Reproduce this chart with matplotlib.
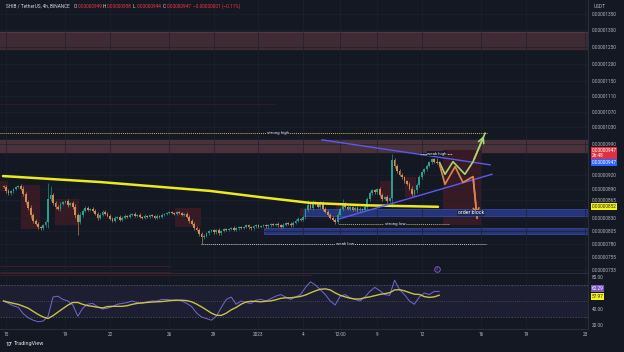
import numpy as np
import pandas as pd
import matplotlib
matplotlib.use('Agg')
import matplotlib.pyplot as plt
from matplotlib.patches import Rectangle
from matplotlib.ticker import FixedLocator, FuncFormatter, NullLocator
from matplotlib.transforms import blended_transform_factory

# цены в единицах 1e-8 USDT, свечи 4h начиная с 14 дек 20:00
closes = [893,
          885, 880, 884, 889, 893, 896,   # 15 дек
          890, 878, 862, 850, 835, 824,   # 16
          818, 812, 809, 815, 822, 868,   # 17
          876, 860, 852, 848, 858, 862,   # 18
          864, 856, 860, 852, 835, 822,   # 19
          836, 844, 850, 846, 848, 844,   # 20
          838, 830, 836, 842, 838, 834,   # 21
          828, 824, 830, 832, 826, 830,   # 22
          834, 832, 836, 838, 834, 836,   # 23
          832, 830, 834, 832, 835, 833,   # 24
          830, 834, 832, 836, 838, 840,   # 25
          842, 840, 838, 841, 839, 836,   # 26
          838, 832, 824, 818, 810, 806,   # 27
          798, 792, 795, 800, 804, 806,   # 28
          802, 806, 800, 804, 808, 806,   # 29
          808, 810, 806, 809, 812, 810,   # 30
          812, 815, 811, 809, 813, 815,   # 31
          812, 814, 816, 813, 815, 817,   # 1 янв
          816, 818, 815, 812, 816, 819,   # 2
          818, 815, 820, 824, 828, 826,   # 3
          832, 845, 856, 850, 862, 858,   # 4
          852, 860, 848, 842, 836, 830,   # 5
          826, 822, 836, 848, 858, 852,   # 6
          848, 852, 846, 850, 845, 848,   # 7
          846, 852, 868, 880, 886, 882,   # 8
          888, 876, 868, 872, 864, 870,   # 9
          952, 940, 928, 920, 914, 906,   # 10
          900, 890, 878, 886, 898, 915,   # 11
          925, 932, 940, 948, 955, 949,   # 12
          947]
first_open = 895
# заметные тени (индекс свечи -> значение)
spike_high = {18: 902, 19: 895, 123: 866, 137: 868, 157: 966, 175: 958}
spike_low = {30: 796, 80: 780, 134: 818, 175: 944}

# RSI каждые 8 часов
rsi = [50, 47, 44, 42, 34, 29, 26, 24, 25, 31, 55, 56, 52, 50, 45, 31, 41, 46,
       47, 43, 40, 41, 43, 46, 47, 48, 50, 48, 47, 49, 50, 50, 52, 52, 51, 51,
       50, 47, 43, 35, 30, 28, 26, 31, 42, 52, 55, 46, 50, 48, 47, 51, 52, 50,
       53, 56, 58, 55, 52, 55, 58, 67, 74, 70, 64, 58, 50, 45, 56, 58, 54, 52,
       50, 55, 62, 67, 63, 58, 57, 76, 64, 58, 50, 46, 55, 60, 58, 62, 62]

# желтая линия (день, цена)
ma_days = [-0.2, 6.33, 13.74, 17.1, 20.47, 24.31, 29.09]
ma_vals = [917, 904, 885, 872, 860, 855, 852]

# прогнозные пути (день, цена)
green_days = [29.2, 29.56, 30.1, 30.9, 31.45, 32.26]
green_vals = [947, 921, 949, 921, 949, 1016]
orange_days = [29.2, 29.56, 30.24, 30.77, 31.45, 31.72]
orange_vals = [942, 899, 938, 903, 916, 829]

# трендовые линии треугольника
upper_tl = ([21.28, 32.6], [1000, 942])
lower_tl = ([22.36, 32.73], [827, 921])

# зоны
zone_top = (1242, 1294)
zone_mid = (971, 1000)
order_block = (20.0, 833, 848)
demand_zone = (17.4, 798, 810)
red_boxes = [(-0.4, 0.15, 884, 906), (1.0, 2.3, 808, 897), (3.3, 4.9, 815, 867),
             (11.4, 13.1, 812, 850), (19.8, 20.6, 833, 850), (22.2, 22.9, 835, 860),
             (25.2, 26.0, 865, 906), (26.9, 27.6, 872, 915), (29.45, 32.0, 815, 975)]

tick_days = [0, 4, 7, 11, 14, 17, 20, 22.5, 25, 28, 32, 35, 39]
tick_labels = ['15', '19', '22', '26', '29', '2023', '4', '12:00', '9', '12', '16', '19', '23']
price_ticks = [1350, 1300, 1250, 1200, 1150, 1110, 1070, 1030, 990, 920, 890, 865,
               830, 805, 780, 755, 733]

BG = '#141823'
GRID = '#1e2230'
TXT = '#b2b5be'
FS = 3.4


def price_fmt(v, pos=None):
    return '0.%08d' % int(round(v))


def main():
    plt.rcParams['font.family'] = ['Roboto', 'DejaVu Sans']

    fig = plt.figure(figsize=(6.24, 3.52), dpi=100, facecolor=BG)
    ax = fig.add_axes([0, 1 - 273 / 352, 588 / 624, 273 / 352], facecolor=BG)
    ax2 = fig.add_axes([0, 1 - 329 / 352, 588 / 624, 55 / 352], facecolor=BG, sharex=ax)

    # свечи
    c = np.array(closes, dtype=float)
    o = np.concatenate([[first_open], c[:-1]])
    t = -1 / 6 + np.arange(len(c)) / 6
    body_hi = np.maximum(o, c)
    body_lo = np.minimum(o, c)
    hi = body_hi + 2 + 0.2 * (body_hi - body_lo)
    lo = body_lo - 2 - 0.2 * (body_hi - body_lo)
    for i, v in spike_high.items():
        hi[i] = v
    for i, v in spike_low.items():
        lo[i] = v
    up = c >= o
    colors = np.where(up, '#2c9c8d', '#d18c56')

    # фоновые зоны
    ax.axhspan(*zone_top, color='#3e2b33', zorder=0.5)
    ax.axhline(zone_top[1], color='#5a3744', lw=0.8, zorder=0.6)
    ax.axhspan(*zone_mid, color='#4a323a', zorder=0.5)
    ax.add_patch(Rectangle((order_block[0], order_block[1]), 40, order_block[2] - order_block[1],
                           fc='#26357a', ec='#3a4fb0', lw=0.5, zorder=0.7))
    ax.add_patch(Rectangle((demand_zone[0], demand_zone[1]), 40, demand_zone[2] - demand_zone[1],
                           fc='#26357a', ec='#3a4fb0', lw=0.5, zorder=0.7))
    for x0, x1, p0, p1 in red_boxes:
        ax.add_patch(Rectangle((x0, p0), x1 - x0, p1 - p0, fc='#381a25', ec='none', zorder=0.6))

    ax.vlines(t, lo, hi, colors=colors, lw=0.45, zorder=2)
    ax.bar(t, np.maximum(body_hi - body_lo, 0.8), bottom=body_lo, width=0.12,
           color=colors, lw=0, zorder=2.1)

    # желтая линия
    ax.plot(ma_days, ma_vals, color='#eaea1e', lw=1.8, zorder=3, solid_capstyle='round')

    # треугольник
    ax.plot(*upper_tl, color='#5a5af0', lw=1.0, zorder=3)
    ax.plot(*lower_tl, color='#5a5af0', lw=1.0, zorder=3)

    # прогнозы
    ax.plot(green_days, green_vals, color='#a9d46e', lw=1.2, zorder=4)
    ax.annotate('', xy=(green_days[-1], green_vals[-1]), xytext=(green_days[-2], green_vals[-2]),
                arrowprops=dict(arrowstyle='->', color='#a9d46e', lw=1.2), zorder=4)
    ax.plot(orange_days, orange_vals, color='#d8894a', lw=1.2, zorder=4)
    ax.annotate('', xy=(orange_days[-1], orange_vals[-1]), xytext=(orange_days[-2], orange_vals[-2]),
                arrowprops=dict(arrowstyle='->', color='#d8894a', lw=1.2), zorder=4)

    # уровни
    ax.hlines(1016, -0.4, 32.4, colors='#c9b45a', lw=0.7, linestyles=(0, (1, 1)), zorder=3)
    ax.hlines(818, 22.4, 29.8, colors='#c9b45a', lw=0.7, linestyles=(0, (1, 1)), zorder=3)
    ax.hlines(779, 13.1, 32.4, colors='#c8c8c8', lw=0.7, linestyles=(0, (1, 1)), zorder=3)
    ax.hlines(966, 27.9, 30.0, colors='#c8c8c8', lw=0.6, linestyles=(0, (2, 1)), zorder=3)
    ax.hlines(1090, -0.4, 18.1, colors='#3a1a24', lw=0.6, zorder=1)
    for lvl in (740, 729):
        ax.hlines(lvl, -0.4, 11.1, colors='#4a1a28', lw=0.6, zorder=1)

    lbl = dict(color='#e6e6e6', fontsize=3.2, ha='center', va='center', zorder=6)
    ax.text(18.3, 1016, 'strong high', bbox=dict(fc=BG, ec='none', pad=0.3), **lbl)
    ax.text(26.2, 818, 'strong low', bbox=dict(fc=BG, ec='none', pad=0.3), **lbl)
    ax.text(22.8, 779, 'weak low', bbox=dict(fc=BG, ec='none', pad=0.3), **lbl)
    ax.text(29.0, 967, 'weak high', bbox=dict(fc=BG, ec='none', pad=0.3), **lbl)
    ax.text(31.3, 840, 'order block', color='#ffffff', fontsize=3.8, ha='center', va='center',
            zorder=6, bbox=dict(fc='#1c2a5a', ec='none', pad=0.5))
    ax.plot([29.0], [735], 'o', ms=4, mfc='none', mec='#7e57c2', mew=0.7, zorder=6)
    ax.text(29.0, 735, '4', color='#7e57c2', fontsize=2.6, ha='center', va='center', zorder=6)

    # ось цен
    ax.set_yscale('log')
    ax.set_ylim(727.2, 1397.3)
    ax.set_xlim(-0.404, 39.19)
    ax.yaxis.set_major_locator(FixedLocator(price_ticks))
    ax.yaxis.set_minor_locator(NullLocator())
    ax.yaxis.set_major_formatter(FuncFormatter(price_fmt))
    ax.yaxis.tick_right()
    ax.tick_params(axis='y', length=0, pad=3, labelsize=FS, colors=TXT)
    ax.tick_params(axis='x', length=0, labelbottom=False)
    ax.set_xticks(tick_days)
    ax.grid(True, color=GRID, lw=0.5, zorder=0)
    for s in ax.spines.values():
        s.set_visible(False)
    ax.spines['bottom'].set_visible(True)
    ax.spines['bottom'].set_color('#2a2e39')
    ax.spines['right'].set_visible(True)
    ax.spines['right'].set_color('#2a2e39')

    # подписи на шкале
    tr = blended_transform_factory(fig.transFigure, ax.transData)
    x_lab = 591.5 / 624
    ax.text(x_lab, 970, '0.00000947\n2h:48', transform=tr, fontsize=FS, color='white',
            va='center', ha='left', linespacing=1.0, zorder=7, clip_on=False,
            bbox=dict(boxstyle='square,pad=0.2', fc='#e0303f', ec='none'))
    ax.text(x_lab, 947, '0.00000947', transform=tr, fontsize=FS, color='white',
            va='center', ha='left', zorder=7, clip_on=False,
            bbox=dict(boxstyle='square,pad=0.2', fc='#2962ff', ec='none'))
    ax.text(x_lab, 852, '0.00000852', transform=tr, fontsize=FS, color='#222222',
            va='center', ha='left', zorder=7, clip_on=False,
            bbox=dict(boxstyle='square,pad=0.2', fc='#f5f516', ec='none'))
    fig.text(594 / 624, 1 - 6 / 352, 'USDT', fontsize=FS, color=TXT, va='center')

    # RSI
    rsi_t = -1 / 6 + np.arange(len(rsi)) / 3
    rsi_ma = pd.Series(rsi, dtype=float).rolling(6, min_periods=1).mean()
    ax2.axhspan(30, 70, color='#7e57c2', alpha=0.1, lw=0)
    for lvl, ls in ((70, (0, (2, 2))), (50, (0, (1, 2))), (30, (0, (2, 2)))):
        ax2.axhline(lvl, color='#787b86', lw=0.5, ls=ls, alpha=0.7)
    ax2.hlines(82, -0.4, 20.6, colors='#4a1a28', lw=0.6)
    ax2.plot(rsi_t, rsi, color='#7468d2', lw=0.7, zorder=3)
    ax2.plot(rsi_t, rsi_ma, color='#c9c24a', lw=1.0, zorder=4)
    ax2.set_ylim(15, 83.75)
    ax2.set_yticks([80, 40, 20])
    ax2.yaxis.set_major_formatter(FuncFormatter(lambda v, p: '%.2f' % v))
    ax2.yaxis.tick_right()
    ax2.tick_params(axis='y', length=0, pad=3, labelsize=FS, colors=TXT)
    ax2.set_xticks(tick_days)
    ax2.set_xticklabels(tick_labels)
    ax2.tick_params(axis='x', length=0, pad=2.5, labelsize=FS, colors=TXT)
    ax2.grid(True, axis='x', color=GRID, lw=0.5, zorder=0)
    for s in ax2.spines.values():
        s.set_visible(False)
    ax2.spines['right'].set_visible(True)
    ax2.spines['right'].set_color('#2a2e39')
    ax2.spines['bottom'].set_visible(True)
    ax2.spines['bottom'].set_color('#2a2e39')

    # метки RSI сдвинуты друг от друга, как на шкале TradingView
    tr2 = blended_transform_factory(fig.transFigure, ax2.transData)
    ax2.text(x_lab, 66.0, '62.29', transform=tr2, fontsize=FS, color='white', va='center',
             zorder=7, clip_on=False, bbox=dict(boxstyle='square,pad=0.2', fc='#7e57c2', ec='none'))
    ax2.text(x_lab, 55.5, '57.97', transform=tr2, fontsize=FS, color='#222222', va='center',
             zorder=7, clip_on=False, bbox=dict(boxstyle='square,pad=0.2', fc='#f5f516', ec='none'))

    # заголовок
    y_head = 1 - 6 / 352
    fig.text(6 / 624, y_head, 'SHIB / TetherUS, 4h, BINANCE', fontsize=FS, color='#d1d4dc', va='center')
    parts = [(74, 'O', '0.00000949'), (103, 'H', '0.00000958'), (133, 'L', '0.00000944'),
             (163, 'C', '0.00000947')]
    for px, k, v in parts:
        fig.text(px / 624, y_head, k, fontsize=FS, color='#d1d4dc', va='center')
        fig.text((px + 3.5) / 624, y_head, v, fontsize=FS, color='#f23645', va='center')
    fig.text(193 / 624, y_head, '\u22120.00000001 (\u22120.11%)', fontsize=FS, color='#f23645', va='center')

    # логотип
    fig.text(5 / 624, 1 - 344 / 352, '17', fontsize=4.2, color='#e0e0e0', weight='bold', va='center')
    fig.text(14 / 624, 1 - 344 / 352, 'TradingView', fontsize=4.0, color='#e0e0e0', va='center')

    fig.savefig('out.png', dpi=100, facecolor=BG)


if __name__ == '__main__':
    main()
